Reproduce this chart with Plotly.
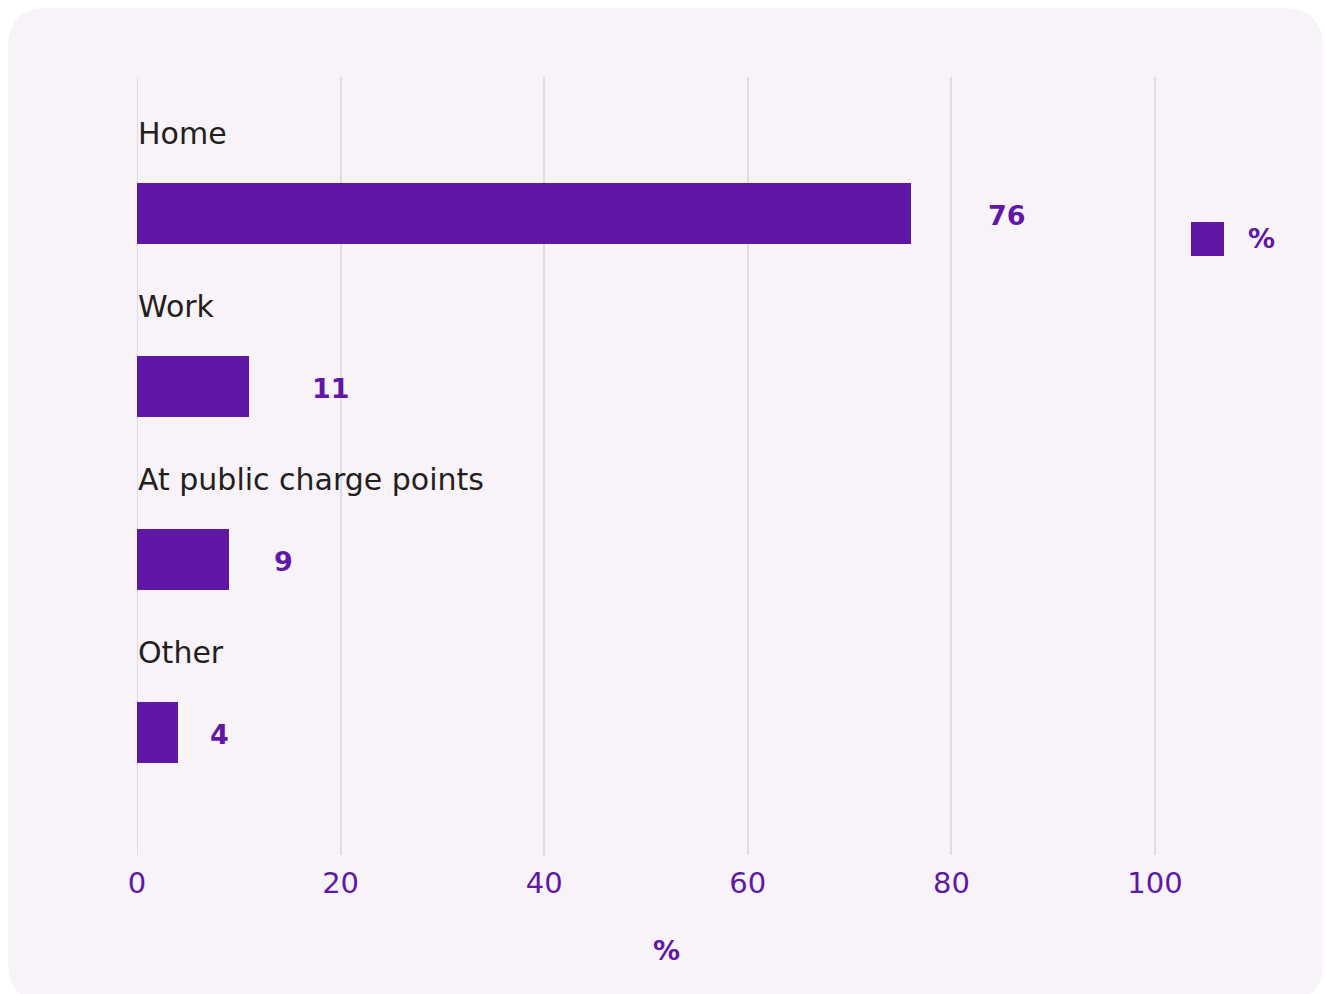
import plotly.graph_objects as go

categories = ["Home", "Work", "At public charge points", "Other"]
values = [76, 11, 9, 4]
tick_values = [0, 20, 40, 60, 80, 100]
tick_labels = ["0", "20", "40", "60", "80", "100"]
series_name = "%"
axis_title = "%"

# styles
PURPLE = "#6117a6"
TEXT = "#231f20"
PANEL = "#f8f3f9"
GRID = "#dedbe1"
FONT = "DejaVu Sans"
label_shift = [96, 82, 55, 42]

W, H = 1325, 994
ml, mr, mt, mb = 137, 130, 77, 139
pw, ph = W - ml - mr, H - mt - mb
px_per_unit = 1018 / 100.0
xmax = pw / px_per_unit

ypos = list(range(len(categories)))
band = 173.0
ytop = -(213 - mt) / band
ybot = (mt + ph - 213) / band

def px2x(px):
    return (px - ml) / pw

def px2y(py):
    return (mt + ph - py) / ph

fig = go.Figure()
fig.add_trace(go.Bar(
    x=values, y=ypos, orientation="h", name=series_name,
    marker=dict(color=PURPLE, line=dict(width=0)),
    width=61 / band, showlegend=False, hoverinfo="x",
))

annotations = []
for i, (c, v) in enumerate(zip(categories, values)):
    annotations.append(dict(x=0, y=i - 80 / band, xref="x", yref="y", text=c,
                            showarrow=False, xanchor="left", yanchor="middle",
                            xshift=0, borderpad=0,
                            font=dict(family=FONT, size=30, color=TEXT)))
    annotations.append(dict(x=v, y=i + 2 / band, xref="x", yref="y", text="<b>%d</b>" % v,
                            showarrow=False, xanchor="center", yanchor="middle",
                            xshift=label_shift[i],
                            font=dict(family=FONT, size=27, color=PURPLE)))
# axis title
annotations.append(dict(x=px2x(666), y=px2y(950), xref="paper", yref="paper",
                        text="<b>%s</b>" % axis_title, showarrow=False,
                        xanchor="center", yanchor="middle",
                        font=dict(family=FONT, size=27, color=PURPLE)))
# legend label
annotations.append(dict(x=px2x(1246), y=px2y(239), xref="paper", yref="paper",
                        text="<b>%s</b>" % series_name, showarrow=False,
                        xanchor="left", yanchor="middle",
                        font=dict(family=FONT, size=27, color=PURPLE)))

# rounded panel
x0, x1 = px2x(8), px2x(1323)
y1, y0 = px2y(8), px2y(1002)
rx, ry = 40 / pw, 40 / ph
path = (f"M {x0+rx},{y1} L {x1-rx},{y1} Q {x1},{y1} {x1},{y1-ry} "
        f"L {x1},{y0+ry} Q {x1},{y0} {x1-rx},{y0} L {x0+rx},{y0} "
        f"Q {x0},{y0} {x0},{y0+ry} L {x0},{y1-ry} Q {x0},{y1} {x0+rx},{y1} Z")
shapes = [
    dict(type="path", path=path, xref="paper", yref="paper", layer="below",
         fillcolor=PANEL, line=dict(width=0)),
    dict(type="line", xref="x", yref="paper", x0=0, x1=0, y0=0, y1=1,
         layer="below", line=dict(color=GRID, width=2)),
    dict(type="rect", xref="paper", yref="paper",
         x0=px2x(1191), x1=px2x(1224), y0=px2y(256), y1=px2y(222),
         fillcolor=PURPLE, line=dict(width=0)),
]

fig.update_layout(
    width=W, height=H,
    margin=dict(l=ml, r=mr, t=mt, b=mb, pad=0),
    paper_bgcolor="white", plot_bgcolor="rgba(0,0,0,0)",
    showlegend=False,
    annotations=annotations, shapes=shapes,
    bargap=0,
    xaxis=dict(range=[0, xmax], tickvals=tick_values, ticktext=tick_labels,
               showgrid=True, gridcolor=GRID, gridwidth=2, zeroline=False,
               showline=False, ticks="", ticklabelstandoff=8,
               tickfont=dict(family=FONT, size=29, color=PURPLE), fixedrange=True),
    yaxis=dict(range=[ybot, ytop], showticklabels=False, showgrid=False,
               zeroline=False, showline=False, ticks="", fixedrange=True),
)

fig.write_html("out.html", config={"displayModeBar": False})
